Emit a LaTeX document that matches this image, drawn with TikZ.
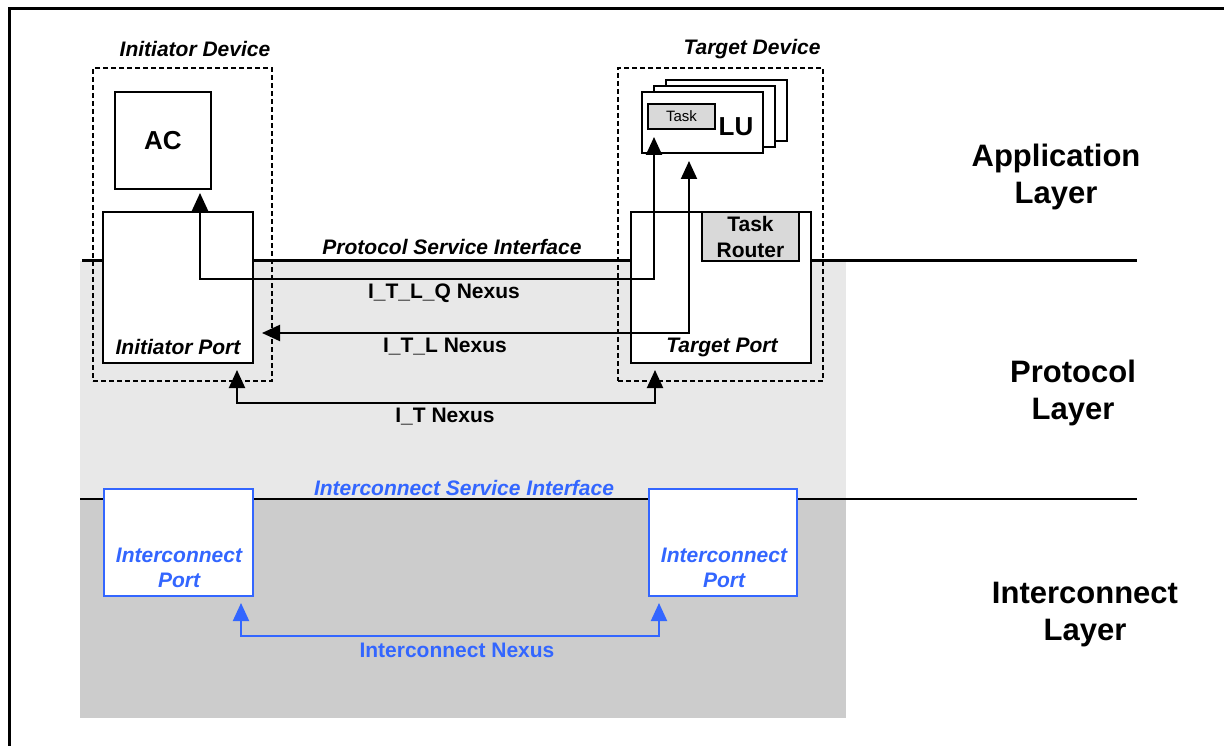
\documentclass[tikz,border=0pt]{standalone}
\usepackage{fontspec}
\setmainfont{Liberation Sans}
\usetikzlibrary{positioning,arrows.meta}
\definecolor{icblue}{HTML}{3366FF}
\definecolor{protogray}{HTML}{E8E8E8}
\definecolor{icgray}{HTML}{CCCCCC}
\definecolor{taskgray}{HTML}{D9D9D9}
\newcommand{\lblfont}{\fontsize{21}{25}\selectfont\bfseries}
\newcommand{\bigfont}{\fontsize{26}{30}\selectfont\bfseries}
\newcommand{\layerfont}{\fontsize{31}{37}\selectfont\bfseries}

\begin{document}
\begin{tikzpicture}[x=1pt,y=-1pt,
  box/.style={draw,fill=white,line width=2pt,inner sep=0pt},
  devbox/.style={draw,line width=1.6pt,dash pattern=on 5pt off 3pt,inner sep=0pt},
  graybox/.style={box,fill=taskgray},
  icbox/.style={box,draw=icblue},
  lbl/.style={font=\lblfont\itshape,inner sep=0pt},
  nexlbl/.style={font=\lblfont,inner sep=0pt},
  nexus/.style={line width=2pt,{Triangle[length=18pt,width=16pt]}-{Triangle[length=18pt,width=16pt]}},
  layerlbl/.style={font=\layerfont,align=center,inner sep=0pt}]
\useasboundingbox (0,0) rectangle (1224,746);

% layer backgrounds
\fill[protogray] (80,261) rectangle (846,499);
\fill[icgray] (80,499) rectangle (846,718);
\draw[line width=3pt] (9,746) -- (9,9) -- (1224,9);
\draw[line width=3pt] (82,261) -- (1137,261);
\draw[line width=2.5pt] (80,499) -- (1137,499);

% initiator side
\node[box,minimum width=96pt,minimum height=97pt] (ac) at (163,140.5) {\bigfont AC};
\node[box,minimum width=150pt,minimum height=151pt] (ip) at (178,287.5) {};
\node[lbl] (iplbl) at (178,347) {Initiator Port};
\node[devbox,minimum width=179pt,minimum height=313pt] (idev) at (182.5,224.5) {};
\node[lbl] (idevlbl) at (195,49) {Initiator Device};

% target side
\node[box,minimum width=180pt,minimum height=151pt] (tp) at (721,287.5) {};
\node[lbl] (tplbl) at (722,347) {Target Port};
\node[graybox,minimum width=97pt,minimum height=49pt,align=center,
  font=\fontsize{21}{26}\selectfont\bfseries] (router) at (750.5,236.5) {Task\\Router};
\node[box,minimum width=121pt,minimum height=61pt] (luback) at (726.5,110.5) {};
\node[box,minimum width=121pt,minimum height=61pt] (lumid) at (714.5,116.5) {};
\node[box,minimum width=121pt,minimum height=61pt] (lufront) at (702.5,122.5) {};
\node[graybox,line width=1.6pt,minimum width=67pt,minimum height=25pt,
  font=\fontsize{15}{18}\selectfont] (task) at (681.5,116.5) {Task};
\node[font=\bigfont,inner sep=0pt] (lu) at (736,127) {LU};
\node[devbox,minimum width=205pt,minimum height=313pt] (tdev) at (720.5,224.5) {};
\node[lbl] (tdevlbl) at (752,49) {Target Device};

% interconnect ports
\node[icbox,minimum width=149pt,minimum height=107pt] (icl) at (178.5,542.5) {};
\node[lbl,text=icblue,align=center,font=\fontsize{21}{25}\selectfont\bfseries\itshape] (icllbl) at (179,568) {Interconnect\\Port};
\node[icbox,minimum width=148pt,minimum height=107pt] (icr) at (723,542.5) {};
\node[lbl,text=icblue,align=center,font=\fontsize{21}{25}\selectfont\bfseries\itshape] (icrlbl) at (724,568) {Interconnect\\Port};

% nexus connectors
\draw[nexus,shorten <=3pt] ([xshift=-12pt]ac.south east) -- ++(0,89) -| ([xshift=13pt,yshift=17pt]lufront.south west);
\draw[nexus,shorten <=8pt] (ip.east |- 0,333) -| ([xshift=36pt,yshift=-13pt]lumid.south west);
\draw[nexus,shorten <=6pt,shorten >=6pt] ([xshift=-17pt]ip.south east) -- ++(0,39) -| ([xshift=25pt]tp.south west);
\draw[nexus,icblue,shorten <=6pt,shorten >=6pt] ([xshift=-13pt]icl.south east) -- ++(0,39) -| ([xshift=11pt]icr.south west);

% labels
\node[lbl] (psi) at (452,247) {Protocol Service Interface};
\node[nexlbl] (itlq) at (444,293) {I\_T\_L\_Q Nexus};
\node[nexlbl] (itl) at (445,347) {I\_T\_L Nexus};
\node[nexlbl] (it) at (445,417) {I\_T Nexus};
\node[lbl,text=icblue] (isi) at (464,488) {Interconnect Service Interface};
\node[nexlbl,text=icblue] (icn) at (457,650) {Interconnect Nexus};

\node[layerlbl] (applayer) at (1056,177) {Application\\Layer};
\node[layerlbl] (protolayer) at (1073,393) {Protocol\\Layer};
\node[layerlbl] (iclayer) at (1085,615) {Interconnect\\Layer};
\end{tikzpicture}
\end{document}
